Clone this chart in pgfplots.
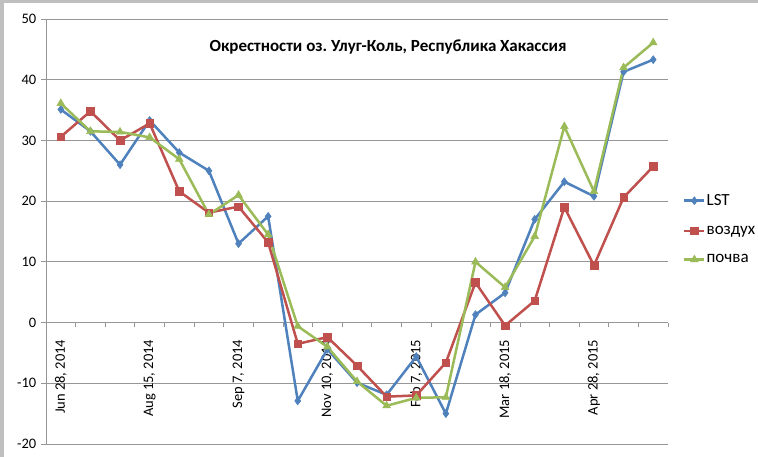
\documentclass[border=0pt]{standalone}
\usepackage{fontspec}
\setmainfont{Carlito}
\usepackage{pgfplots}
\pgfplotsset{compat=1.18}
\frenchspacing
\definecolor{lstc}{HTML}{4F81BD}
\definecolor{airc}{HTML}{C0504D}
\definecolor{soilc}{HTML}{9BBB59}
\definecolor{gridgray}{RGB}{150,150,150}
\begin{document}
\begin{tikzpicture}
\useasboundingbox (0,0) rectangle (758pt,457pt);
\fill[white] (0,0) rectangle (758pt,457pt);
\fill[gray!50] (0,0) rectangle (4pt,457pt);
\fill[gray!50] (0,454pt) rectangle (758pt,457pt);
\begin{axis}[
  at={(46pt,13pt)}, anchor=south west, scale only axis,
  width=622pt, height=425pt,
  xmin=-0.5, xmax=20.5, ymin=-20, ymax=50,
  ytick={-20,-10,...,50},
  ymajorgrids, grid style={color=gridgray, line width=0.8pt},
  axis x line*=middle, axis y line*=left,
  axis line style={gridgray, line width=0.8pt},
  tick style={gridgray, line width=0.8pt},
  tick align=outside, major tick length=4.5pt,
  xtick={-0.5,0.5,...,20.5}, xticklabels={},
  extra x ticks={0,3,6,9,12,15,18},
  extra x tick labels={{Jun 28, 2014},{Aug 15, 2014},{Sep 7, 2014},{Nov 10, 2014},{Feb 7, 2015},{Mar 18, 2015},{Apr 28, 2015}},
  extra x tick style={major tick length=0pt},
  xticklabel style={rotate=90, anchor=east, inner xsep=17pt, font=\fontsize{14.5}{16}\selectfont},
  yticklabel style={font=\fontsize{14.5}{16}\selectfont, inner xsep=5pt},
  /pgf/number format/assume math mode=true,
  clip=false,
  legend style={at={(1.024,0.59)}, anchor=north west, draw=none, fill=none,
    font=\fontsize{17}{20}\selectfont, row sep=17pt, inner sep=0pt,
    nodes={inner sep=1pt}},
  legend cell align=left,
  legend image code/.code={\draw[mark repeat=2,mark phase=2] plot coordinates {(0pt,0pt)(10pt,0pt)(20pt,0pt)};},
  every axis plot/.append style={line width=2.5pt},
]
\addplot[color=lstc, mark=diamond*, mark size=4pt, mark options={solid, line width=0.5pt}] coordinates {
(0,35.1)(1,31.5)(2,26.0)(3,33.3)(4,28.0)(5,25.0)(6,13.0)(7,17.5)(8,-12.9)(9,-4.4)(10,-9.9)(11,-11.9)(12,-5.6)(13,-15.0)(14,1.3)(15,4.9)(16,17.0)(17,23.2)(18,20.8)(19,41.3)(20,43.3)};
\addlegendentry{LST}
\addplot[color=airc, mark=square*, mark size=3.8pt, mark options={solid, line width=0.5pt}] coordinates {
(0,30.6)(1,34.8)(2,30.0)(3,32.8)(4,21.6)(5,18.1)(6,19.1)(7,13.2)(8,-3.5)(9,-2.4)(10,-7.1)(11,-12.2)(12,-12.0)(13,-6.6)(14,6.6)(15,-0.5)(16,3.6)(17,19.0)(18,9.4)(19,20.6)(20,25.7)};
\addlegendentry{воздух}
\addplot[color=soilc, mark=triangle*, mark size=4.5pt, mark options={solid, line width=0.5pt}] coordinates {
(0,36.1)(1,31.5)(2,31.4)(3,30.5)(4,26.9)(5,17.8)(6,21.0)(7,14.5)(8,-0.6)(9,-4.0)(10,-9.7)(11,-13.7)(12,-12.4)(13,-12.3)(14,10.0)(15,5.8)(16,14.2)(17,32.3)(18,21.6)(19,42.0)(20,46.1)};
\addlegendentry{почва}
\end{axis}
\node[font=\bfseries\fontsize{17}{20}\selectfont, anchor=center] at (388pt,410pt) {Окрестности оз. Улуг-Коль, Республика Хакассия};
\end{tikzpicture}
\end{document}
